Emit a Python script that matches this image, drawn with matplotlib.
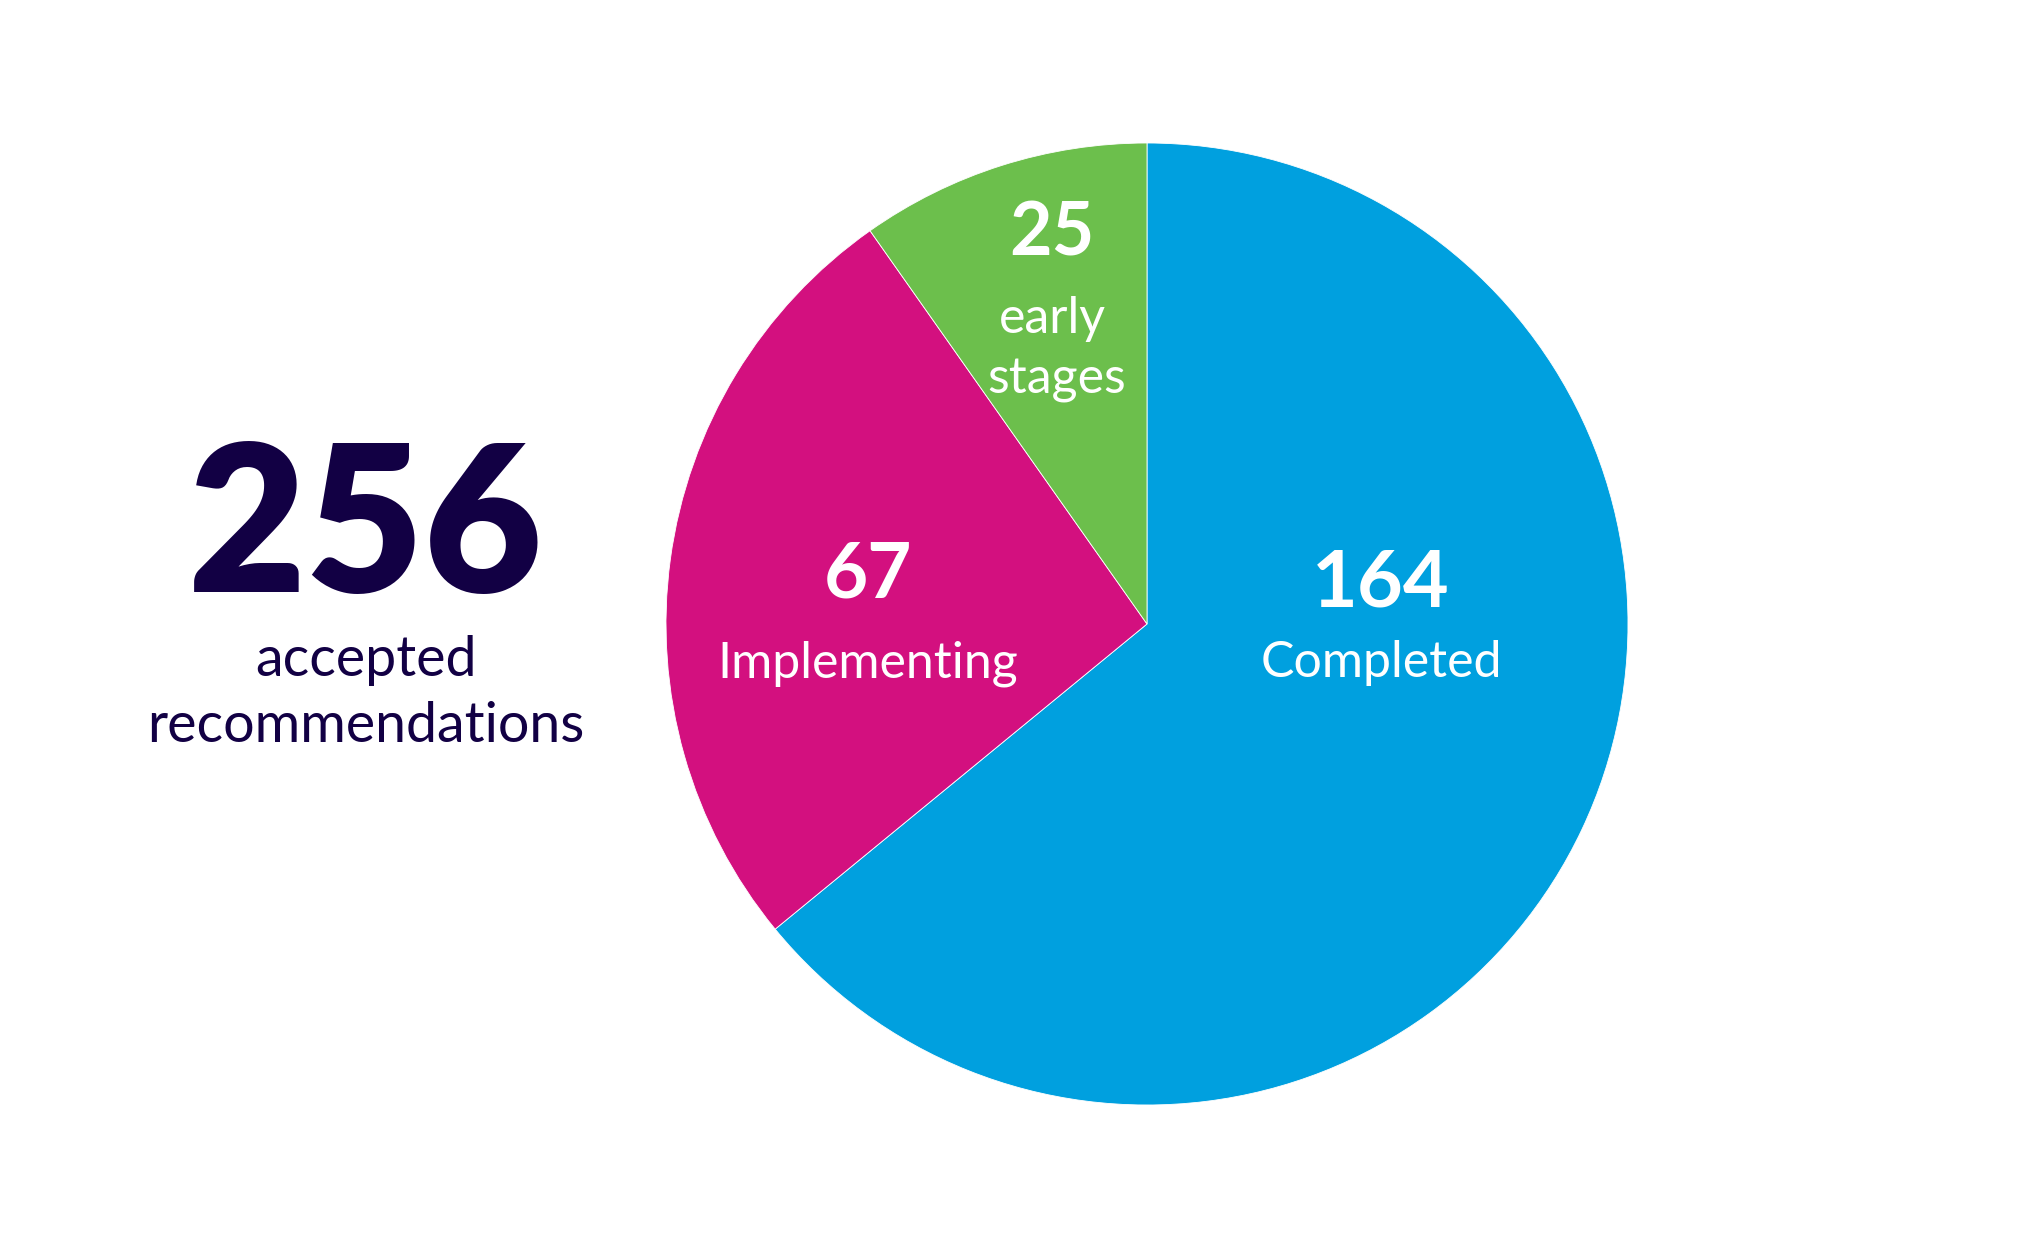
import matplotlib.pyplot as plt

# chart data
categories = ["Completed", "Implementing", "early\nstages"]
counts = [164, 67, 25]
colors = ["#00A0DF", "#D3107F", "#6CBF4C"]
total = sum(counts)

plt.rcParams['font.family'] = ['Lato', 'DejaVu Sans']

W, H = 2031, 1250
fig = plt.figure(figsize=(W / 100, H / 100), dpi=100)
ax = fig.add_axes([0, 0, 1, 1])

cx, cy, r = 1147, H - 624, 481
wedges, _ = ax.pie(counts, colors=colors, startangle=90, counterclock=False,
                   center=(cx, cy), radius=r,
                   wedgeprops=dict(edgecolor="white", linewidth=0.6))
ax.set_xlim(0, W)
ax.set_ylim(0, H)
ax.axis("off")

# labels inside wedges (pixel positions measured from the top)
label_pos = [(1381, 606, 677, 57), (868, 597, 677, 55), (1052, 255, 333, 53)]
for (x, ynum, ytxt, nsize), n, name in zip(label_pos, counts, categories):
    ax.text(x, H - ynum, str(n), color="white", fontsize=nsize, fontweight="bold",
            ha="center", va="baseline")
    for i, line in enumerate(name.split("\n")):
        ax.text(x + 5 * i, H - ytxt - i * 60, line, color="white", fontsize=36,
                ha="center", va="baseline")

# total on the left
navy = "#120044"
ax.text(366, H - 592, str(total), color=navy, fontsize=147, fontweight="heavy",
        ha="center", va="baseline")
ax.text(366, H - 676, "accepted", color=navy, fontsize=40, ha="center", va="baseline")
ax.text(366, H - 742, "recommendations", color=navy, fontsize=40, ha="center", va="baseline")

fig.savefig("out.png", dpi=100)
